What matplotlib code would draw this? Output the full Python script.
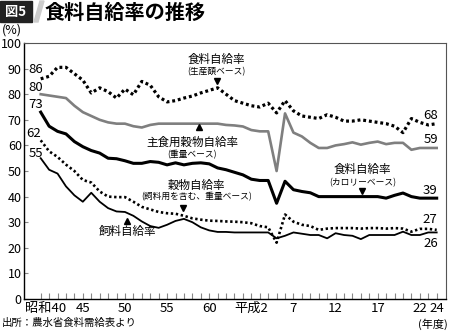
import matplotlib
matplotlib.use("Agg")
import matplotlib.pyplot as plt
from matplotlib.patches import Polygon, Rectangle
from matplotlib.transforms import ScaledTranslation

plt.rcParams["font.family"] = ["Noto Sans CJK JP", "DejaVu Sans"]

# 年度 (昭和40 = 1965 ... 平成24 = 2012)
years = list(range(1965, 2013))

# 食料自給率 (生産額ベース)
seisangaku = [86, 87, 90.5, 90.5, 88, 85.5, 80.5, 82.5, 81, 78.5,
              82, 79.8, 85, 83.5, 79, 77, 77.5, 78.5, 79.3, 80.5,
              81.5, 82.5, 80, 77.5, 76.5, 75.5, 75, 76.5, 72.7, 77.5,
              73.5, 71.5, 71, 70.5, 72, 71, 69.5, 69.5, 70, 69.5,
              69, 68.5, 67.5, 65, 70.5, 69, 68, 68.5]

# 主食用穀物自給率 (重量ベース)
shushoku = [80, 79.5, 79, 78.5, 75.5, 73, 71.5, 70, 69, 68.5,
            68.5, 67.5, 67, 68, 68.5, 68.5, 68.5, 68.5, 68.5, 68.5,
            68.5, 68.5, 68, 67.8, 67.4, 66, 65.5, 65.5, 50, 72.5,
            65, 63.5, 61, 59, 59, 60, 60.5, 61.2, 60.3, 61,
            61.5, 60.5, 61, 61, 58.3, 59, 59, 59]

# 食料自給率 (カロリーベース)
calorie = [73, 67.5, 65.5, 64.5, 61.5, 59.5, 58, 57, 55, 54.8,
           54, 53, 53, 53.7, 53.4, 52.4, 53.2, 52.4, 53, 53.2,
           52.8, 51.2, 50.5, 49.5, 48.5, 46.8, 46.3, 46.3, 37.4, 46,
           42.7, 42, 41.5, 40, 40, 40, 40, 40, 40, 40,
           40, 39.4, 40.5, 41.4, 40, 39.4, 39.4, 39.4]

# 穀物自給率 (飼料用を含む、重量ベース)
kokumotsu = [62, 57.7, 55.5, 52.5, 50, 46.5, 45.5, 42, 40, 39.8,
             39.8, 38, 36, 35, 34, 33.5, 33.3, 32.5, 31.5, 31,
             30.6, 30.5, 30.3, 30.2, 30, 29.6, 28.5, 28, 22, 33,
             30.2, 29, 28.5, 27, 27.5, 27.7, 27.7, 27.7, 27.5, 27.7,
             27.7, 27.5, 27.7, 27.5, 26.3, 27.4, 27.4, 27]

# 飼料自給率
shiryo = [55, 50.5, 49, 44, 40.5, 38, 41.5, 38, 35.5, 34.2,
          34, 32.5, 30.3, 28.5, 27.8, 29, 30.5, 31.3, 30, 28,
          26.8, 26.2, 26.2, 26, 26, 26, 26, 26, 23.7, 24.7,
          26, 25.5, 25, 25, 23.7, 25.7, 25, 24.7, 23.4, 25,
          25, 25, 25, 26.3, 25, 25, 26, 26]

tick_years = [1965, 1970, 1975, 1980, 1985, 1990, 1995, 2000, 2005, 2010, 2012]
tick_labels = ["昭和40", "45", "50", "55", "60", "平成2", "7", "12", "17", "22", "24"]

fig = plt.figure(figsize=(4.5, 3.32), dpi=100)
ax = fig.add_axes([0.053, 0.0994, 0.938, 0.771])

ax.plot(years, seisangaku, color="black", linewidth=2.3,
        linestyle=(0, (0.9, 0.9)))
ax.plot(years, shushoku, color="#7f7f7f", linewidth=1.9)
ax.plot(years, calorie, color="black", linewidth=2.2)
ax.plot(years, kokumotsu, color="black", linewidth=1.9,
        linestyle=(0, (0.9, 1.0)))
ax.plot(years, shiryo, color="black", linewidth=1.3)

ax.set_xlim(1963, 2013.1)
ax.set_ylim(0, 100)
ax.set_yticks(range(0, 101, 10))
ax.set_xticks(tick_years)
ax.set_xticklabels(tick_labels)
ax.set_xticks(years, minor=True)
ax.tick_params(axis="y", direction="in", length=3, width=0.8, color="#888888",
               labelsize=9, pad=1.5)
ax.tick_params(axis="x", which="both", direction="in", length=4, width=0.8,
               color="#888888", labelsize=9.5, pad=2)
# 「昭和40」は少し右寄せ
lbl = ax.get_xticklabels()[0]
lbl.set_transform(lbl.get_transform() + ScaledTranslation(5 / 100, 0, fig.dpi_scale_trans))

for sp in ["top", "right"]:
    ax.spines[sp].set_color("#555555")
    ax.spines[sp].set_linewidth(0.8)
for sp in ["left", "bottom"]:
    ax.spines[sp].set_color("black")
    ax.spines[sp].set_linewidth(1.0)

# 系列名の注記
big = 8.3
small = 6.3
ax.text(1985.9, 93.5, "食料自給率", ha="center", va="center", fontsize=big)
ax.text(1985.9, 89.0, "(生産額ベース)", ha="center", va="center", fontsize=small)
ax.plot([1985.9], [85.3], marker="v", color="black", markersize=5)

ax.text(1983.0, 61.4, "主食用穀物自給率", ha="center", va="center", fontsize=big)
ax.text(1983.0, 56.4, "(重量ベース)", ha="center", va="center", fontsize=small)
ax.plot([1983.8], [67.0], marker="^", color="black", markersize=5)

ax.text(1983.5, 44.2, "穀物自給率", ha="center", va="center", fontsize=big)
ax.text(1983.5, 40.0, "(飼料用を含む、重量ベース)", ha="center", va="center",
        fontsize=small)
ax.plot([1981.9], [35.6], marker="v", color="black", markersize=5)

ax.text(1975.3, 26.2, "飼料自給率", ha="center", va="center", fontsize=big)
ax.plot([1975.3], [30.3], marker="^", color="black", markersize=5)

ax.text(2003.2, 50.5, "食料自給率", ha="center", va="center", fontsize=big)
ax.text(2003.2, 45.4, "(カロリーベース)", ha="center", va="center", fontsize=small)
ax.plot([2003.1], [42.0], marker="v", color="black", markersize=5)

# 始点・終点の数値
num = 9.5
ax.text(1964.4, 89.6, "86", ha="center", va="center", fontsize=num)
ax.text(1964.4, 82.6, "80", ha="center", va="center", fontsize=num)
ax.text(1964.4, 75.9, "73", ha="center", va="center", fontsize=num)
ax.text(1964.2, 64.6, "62", ha="center", va="center", fontsize=num)
ax.text(1964.4, 57.0, "55", ha="center", va="center", fontsize=num)
ax.text(2011.3, 71.6, "68", ha="center", va="center", fontsize=num)
ax.text(2011.3, 62.2, "59", ha="center", va="center", fontsize=num)
ax.text(2011.2, 42.3, "39", ha="center", va="center", fontsize=num)
ax.text(2011.2, 30.9, "27", ha="center", va="center", fontsize=num)
ax.text(2011.3, 21.5, "26", ha="center", va="center", fontsize=num)

# タイトル
fig.patches.append(Rectangle((0, 1 - 22 / 332), 32 / 450, 21 / 332,
                             transform=fig.transFigure, color="#222222"))
fig.patches.append(Polygon([(34 / 450, 1 - 22 / 332), (40 / 450, 1 - 1 / 332),
                            (44 / 450, 1 - 1 / 332), (38 / 450, 1 - 22 / 332)],
                           closed=True, transform=fig.transFigure,
                           color="#cccccc"))
fig.text(16 / 450, 1 - 12 / 332, "図5", color="white", fontsize=9.5,
         fontweight="bold", ha="center", va="center")
fig.text(45 / 450, 1 - 12 / 332, "食料自給率の推移", fontsize=14.5,
         fontweight="bold", ha="left", va="center")
fig.text(12 / 450, 1 - 30 / 332, "(%)", fontsize=9, ha="center", va="center")
fig.text(2 / 450, 1 - 323 / 332, "出所：農水省食料需給表より", fontsize=7.5,
         ha="left", va="center")
fig.text(433 / 450, 1 - 324 / 332, "(年度)", fontsize=8, ha="center",
         va="center")

fig.savefig("out.png", dpi=100)
